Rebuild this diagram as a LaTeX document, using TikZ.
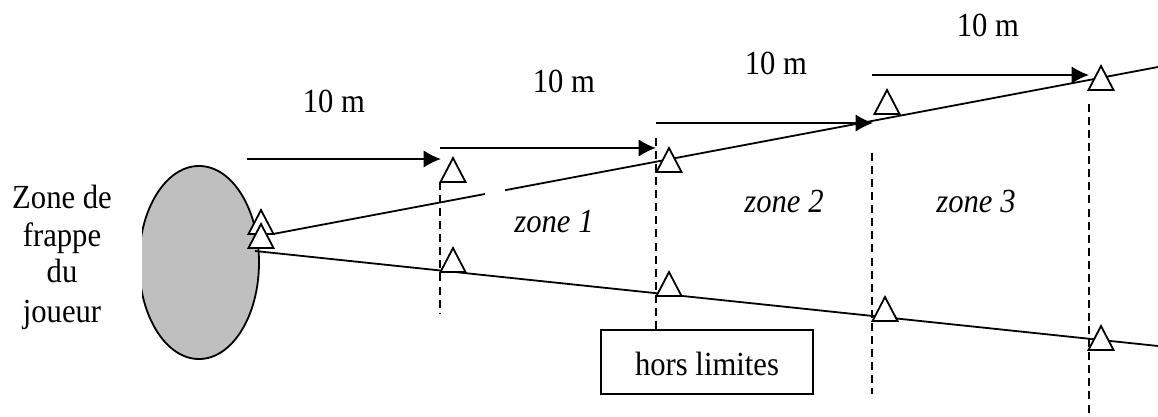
\documentclass[tikz,border=0pt]{standalone}
\usepackage{fontspec}
\setmainfont{Liberation Serif}
\usetikzlibrary{arrows.meta,shapes.geometric}
\tikzset{
  ln/.style={line width=1.35pt,black},
  dashline/.style={line width=1.35pt,black,dash pattern=on 6pt off 3.8pt},
  arr/.style={ln,-{Latex[length=13pt,width=13pt]}},
  tri/.style={line width=1.35pt,draw=black,fill=white,line join=miter},
  lab/.style={font=\fontsize{23}{27}\selectfont,inner sep=0pt,anchor=base},
  zonelab/.style={lab,font=\fontsize{23}{27}\selectfont\itshape}
}
\newcommand{\tria}[2]{\draw[tri] (#1-12.5,#2+24) -- (#1,#2) -- (#1+12.5,#2+24) -- cycle;}
\newcommand{\tall}[1]{\scalebox{1}[1.1]{#1}}
\begin{document}
\begin{tikzpicture}[x=0.75pt,y=-0.75pt]
\useasboundingbox (0,0) rectangle (1158,417);
% player zone
\begin{scope}
  \clip (142,0) rectangle (300,417);
  \node[ellipse,draw=black,fill=black!25,line width=1.35pt,minimum width=45pt*2,minimum height=72.4pt*2,inner sep=0pt] (player) at (199,262.5) {};
\end{scope}
% coordinates
\coordinate (topA) at (273,234);
\coordinate (topB) at (1158,67);
\coordinate (botA) at (255,251);
\coordinate (botB) at (1158,346);
\coordinate (d1a) at (440,182); \coordinate (d1b) at (440,313);
\coordinate (d2a) at (656,138); \coordinate (d2b) at (656,330);
\coordinate (d3a) at (872,153); \coordinate (d3b) at (872,394);
\coordinate (d4a) at (1089,104); \coordinate (d4b) at (1089,417);
\coordinate (a1a) at (247,159); \coordinate (a1b) at (441,159);
\coordinate (a2a) at (440,148); \coordinate (a2b) at (656,148);
\coordinate (a3a) at (656,123); \coordinate (a3b) at (873,123);
\coordinate (a4a) at (872,75); \coordinate (a4b) at (1089,75);
% dashed
\draw[dashline] (d1a) -- (d1b);
\draw[dashline] (d2a) -- (d2b);
\draw[dashline] (d3a) -- (d3b);
\draw[dashline] (d4a) -- (d4b);
% corridor
\draw[ln] (topA) -- (topB);
\draw[ln] (botA) -- (botB);
\fill[white] (485,183) rectangle (505,198);
% arrows
\draw[arr] (a1a) -- (a1b);
\draw[arr] (a2a) -- (a2b);
\draw[arr] (a3a) -- (a3b);
\draw[arr] (a4a) -- (a4b);
% triangles
\tria{261}{210}
\tria{261}{224}
\tria{453}{158}
\tria{453}{248}
\tria{669}{148}
\tria{669}{272}
\tria{887}{90}
\tria{885}{297}
\tria{1101}{66}
\tria{1101}{326}
% box
\node[draw=black,line width=1.35pt,fill=white,minimum width=159pt,minimum height=48pt,inner sep=0pt] (hl) at (707,362) {};
\node[lab] (hlt) at (707,375) {\tall{hors limites}};
% labels
\node[lab] (m1) at (334,113) {\tall{10 m}};
\node[lab] (m2) at (564,93) {\tall{10 m}};
\node[lab] (m3) at (776,75) {\tall{10 m}};
\node[lab] (m4) at (988,37) {\tall{10 m}};
\node[zonelab] (z1) at (554,233) {\tall{zone 1}};
\node[zonelab] (z2) at (784,213) {\tall{zone 2}};
\node[zonelab] (z3) at (976,213) {\tall{zone 3}};
\node[lab] (j1) at (62,209) {\tall{Zone de}};
\node[lab] (j2) at (62,247) {\tall{frappe}};
\node[lab] (j3) at (62,283) {\tall{du}};
\node[lab] (j4) at (62,323) {\tall{joueur}};
\end{tikzpicture}
\end{document}
